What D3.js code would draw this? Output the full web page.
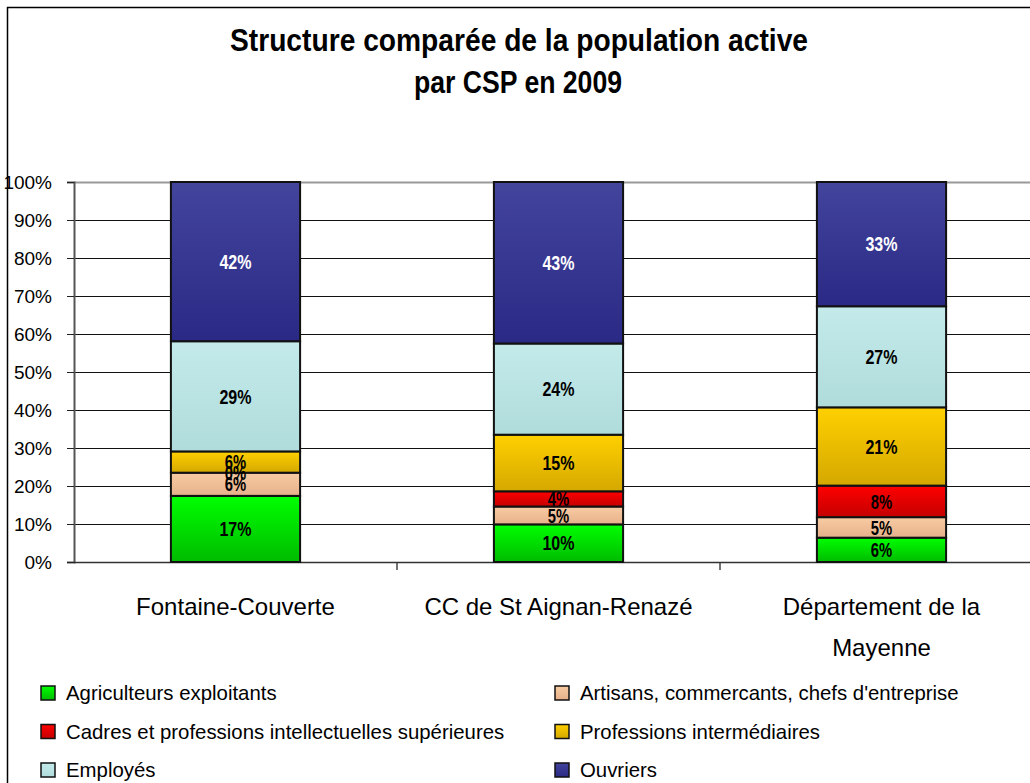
<!DOCTYPE html>
<html><head><meta charset="utf-8">
<script src="https://cdn.jsdelivr.net/npm/d3@7"></script>
<style>body{margin:0;background:#fff}svg{display:block;font-family:"Liberation Sans",Arial,sans-serif}</style>
</head><body><svg id="c" width="1030" height="783"></svg>
<script>
const categories = ["Fontaine-Couverte", "CC de St Aignan-Renazé", "Département de la|Mayenne"];
const series = ["Agriculteurs exploitants", "Artisans, commercants, chefs d'entreprise", "Cadres et professions intellectuelles supérieures", "Professions intermédiaires", "Employés", "Ouvriers"];
const agriculteurs = [17.4, 9.9, 6.4];
const artisans = [6.1, 4.7, 5.4];
const cadres = [0.0, 4.0, 8.3];
const professions = [5.6, 14.9, 20.6];
const employes = [29.0, 24.0, 26.6];
const ouvriers = [41.9, 42.5, 32.7];
const yTicks = [0, 10, 20, 30, 40, 50, 60, 70, 80, 90, 100];
const title = ["Structure comparée de la population active", "par CSP en 2009"];
const colorsTop = ["#00ff00", "#f8cca4", "#ff0000", "#ffd000", "#c4eaea", "#43449c"];
const colorsBot = ["#00bb00", "#e6b08a", "#c40000", "#d4a800", "#b0dcdc", "#2a2a86"];
const labelColors = ["#000", "#000", "#000", "#000", "#000", "#fff"];

const values = [agriculteurs, artisans, cadres, professions, employes, ouvriers];
const svg = d3.select("#c");
const defs = svg.append("defs");
colorsTop.forEach((c, i) => {
  const g = defs.append("linearGradient").attr("id", "g" + i).attr("x1", 0).attr("y1", 0).attr("x2", 0).attr("y2", 1);
  g.append("stop").attr("offset", "0%").attr("stop-color", c);
  g.append("stop").attr("offset", "100%").attr("stop-color", colorsBot[i]);
});

// chart border
svg.append("path").attr("d", "M7.5,790V7.5H1040").attr("fill", "none").attr("stroke", "#000").attr("stroke-width", 1.5);

// title
svg.append("text").attr("x", 519).attr("y", 51).attr("text-anchor", "middle").attr("font-weight", "bold")
  .attr("font-size", 31).attr("textLength", 578).attr("lengthAdjust", "spacingAndGlyphs").text(title[0]);
svg.append("text").attr("x", 518).attr("y", 93).attr("text-anchor", "middle").attr("font-weight", "bold")
  .attr("font-size", 31).attr("textLength", 208).attr("lengthAdjust", "spacingAndGlyphs").text(title[1]);

const left = 74, step = 323;
const x = d3.scaleBand().domain(categories).range([left, left + step * 3]).paddingInner(0.6).paddingOuter(0.3);
const y = d3.scaleLinear().domain([0, 100]).range([562, 182]);

// gridlines
svg.append("g").selectAll("line").data(yTicks).join("line")
  .attr("x1", left).attr("x2", 1030).attr("y1", d => y(d) + 0.5).attr("y2", d => y(d) + 0.5)
  .attr("stroke", d => d === 100 ? "#999" : "#111").attr("stroke-width", d => d === 100 ? 2 : 1.2);

// y axis
const yAxis = d3.axisLeft(y).tickValues(yTicks).tickFormat(d => d + "%").tickSize(7).tickPadding(15);
const ya = svg.append("g").attr("transform", `translate(${left},0)`).call(yAxis);
ya.select(".domain").attr("stroke", "#555").attr("stroke-width", 2);
ya.selectAll(".tick line").attr("stroke", "#222");
ya.selectAll(".tick text").attr("font-size", 19).attr("font-family", "Liberation Sans, Arial").attr("fill", "#000").attr("dy", "0.35em");

// x axis ticks at band boundaries
const bounds = categories.map((c, i) => x(c) - x.step() * x.paddingOuter());
svg.append("g").selectAll("line").data(bounds.slice(1)).join("line")
  .attr("x1", d => d).attr("x2", d => d).attr("y1", 562).attr("y2", 570).attr("stroke", "#444").attr("stroke-width", 1.5);
svg.append("line").attr("x1", left).attr("x2", 1030).attr("y1", 562.5).attr("y2", 562.5).attr("stroke", "#333").attr("stroke-width", 1.5);

// stacks
const rows = categories.map((c, i) => { const o = { cat: c }; series.forEach((s, j) => o[s] = values[j][i]); return o; });
const stacked = d3.stack().keys(series)(rows);
const gBars = svg.append("g");
stacked.forEach((layer, j) => {
  gBars.selectAll(null).data(layer).join("rect")
    .attr("x", d => x(d.data.cat)).attr("width", x.bandwidth())
    .attr("y", d => y(d[1])).attr("height", d => y(d[0]) - y(d[1]))
    .attr("fill", `url(#g${j})`).attr("stroke", "#111").attr("stroke-width", 2);
});
stacked.forEach((layer, j) => {
  gBars.selectAll(null).data(layer).join("text")
    .attr("x", d => x(d.data.cat) + x.bandwidth() / 2).attr("y", d => y((d[0] + d[1]) / 2))
    .attr("dy", "0.36em").attr("text-anchor", "middle").attr("font-weight", "bold").attr("font-size", 20)
    .attr("fill", labelColors[j])
    .text(d => Math.round(d[1] - d[0]) + "%")
    .attr("textLength", function () { return this.textContent.length * 10.7; })
    .attr("lengthAdjust", "spacingAndGlyphs");
});

// category labels
categories.forEach(c => {
  const lines = c.split("|");
  lines.forEach((l, k) => {
    svg.append("text").attr("x", x(c) + x.bandwidth() / 2).attr("y", 615 + k * 41).attr("text-anchor", "middle")
      .attr("font-size", 24).attr("fill", "#000").text(l);
  });
});

// legend
const legPos = [[41, 66], [555, 580]];
series.forEach((s, i) => {
  const col = i % 2, row = Math.floor(i / 2);
  const yy = 686 + row * 38.5;
  svg.append("rect").attr("x", legPos[col][0]).attr("y", yy).attr("width", 14).attr("height", 14)
    .attr("fill", `url(#g${i})`).attr("stroke", "#111").attr("stroke-width", 1.5);
  svg.append("text").attr("x", legPos[col][1]).attr("y", yy + 14).attr("font-size", 21).attr("fill", "#000")
    .text(s).attr("textLength", function () { return this.getComputedTextLength() * 0.97; })
    .attr("lengthAdjust", "spacingAndGlyphs");
});
</script></body></html>
